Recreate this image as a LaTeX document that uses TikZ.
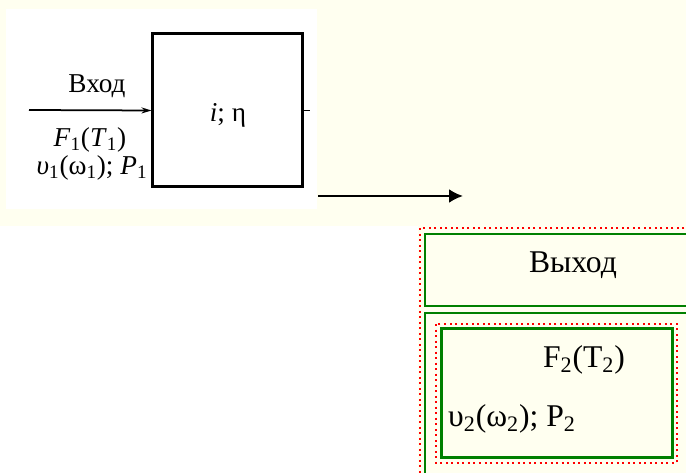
\documentclass[tikz,border=0pt]{standalone}
\usepackage{fontspec}
\setmainfont{Liberation Serif}
\usetikzlibrary{arrows.meta}
\definecolor{krem}{RGB}{255,255,240}
\definecolor{zel}{RGB}{0,128,0}
\tikzset{
  ramka/.style={draw=red, dotted, line width=0.4mm},
  zbox/.style={draw=zel, line width=0.4mm},
  levtxt/.style={anchor=base, inner sep=0pt, font=\fontsize{15.5}{18}\selectfont},
  pravtxt/.style={anchor=base, inner sep=0pt, font=\fontsize{18}{21}\selectfont}
}
\begin{document}
\begin{tikzpicture}[x=0.2mm, y=-0.2mm]
\useasboundingbox (0,0) rectangle (686,473);
\clip (0,0) rectangle (686,473);

% Fon
\fill[krem] (0,0) rectangle (686,473);
\fill[white] (0,226) rectangle (418,473);
\fill[white] (6,9) rectangle (317,209);

% Blok
\node[draw, line width=0.6mm, minimum width=29.8mm, minimum height=30.6mm, inner sep=0pt] (B) at (227.5,110.5) {};
\node[levtxt] (ie) at (228,122) {\textit{i}; η};

\coordinate (vh) at (29,110);
\draw[line width=0.35mm, -{Stealth[length=2mm, width=1.2mm]}] (vh) -- (B.west);
\node[levtxt] (vhod) at (97,93) {Вход};
\node[levtxt] (F1) at (90,147) {\textit{F}\textsubscript{1}(\textit{T}\textsubscript{1})};
\node[levtxt] (v1) at (92,175) {\textit{υ}\textsubscript{1}(ω\textsubscript{1}); \textit{P}\textsubscript{1}};

\coordinate (st) at (310,110.5);
\draw[line width=0.35mm] (B.east) -- (st);

% Strelka
\coordinate (s1) at (318,196);
\coordinate (s2) at (463,196);
\draw[line width=0.5mm, -{Latex[length=2.8mm, width=2.8mm]}] (s1) -- (s2);

% Vyhod
\draw[ramka] (420,228) rectangle (700,480);
\draw[zbox] (425,234) rectangle (700,306);
\draw[zbox, line width=0.3mm] (425,313) rectangle (700,480);
\draw[ramka] (436,324) rectangle (677,463);
\draw[zbox, line width=0.6mm] (441,329) rectangle (672,458);

\node[pravtxt] (vyh) at (573,273) {Выход};
\node[pravtxt] (F2) at (584,368) {F\textsubscript{2}(T\textsubscript{2})};
\node[pravtxt] (v2) at (512,427) {υ\textsubscript{2}(ω\textsubscript{2}); P\textsubscript{2}};
\end{tikzpicture}
\end{document}
